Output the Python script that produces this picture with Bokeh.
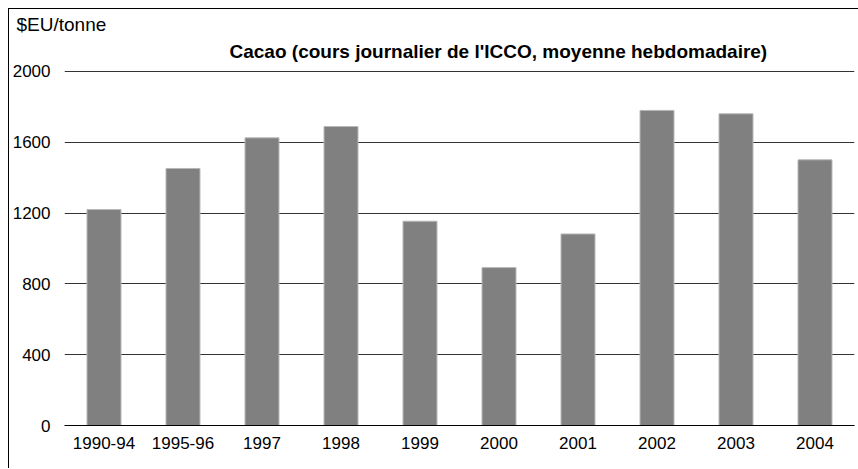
from bokeh.plotting import figure
from bokeh.models import FactorRange, Range1d, FixedTicker, Title, ColumnDataSource
from bokeh.embed import file_html
from bokeh.resources import INLINE

categories = ["1990-94", "1995-96", "1997", "1998", "1999", "2000", "2001", "2002", "2003", "2004"]
prices = [1220, 1452, 1625, 1689, 1154, 892, 1082, 1780, 1761, 1501]
y_ticks = [0, 400, 800, 1200, 1600, 2000]
unit_label = "$EU/tonne"
title_text = "Cacao (cours journalier de l'ICCO, moyenne hebdomadaire)"

source = ColumnDataSource(data=dict(cat=categories, val=prices))

p = figure(
    width=850, height=460,
    x_range=FactorRange(*categories, range_padding=0),
    y_range=Range1d(0, 2045),
    output_backend="svg", toolbar_location=None,
    min_border_left=54, min_border_right=5, min_border_top=0, min_border_bottom=44,
    styles={"margin-left": "8px", "margin-top": "8px",
            "border-left": "1px solid black", "border-top": "1px solid black"},
)
p.title.visible = False

p.vbar(x="cat", top="val", width=0.43, source=source,
       fill_color="#808080", line_color="#b8b8b8", line_width=1)

p.outline_line_color = None
p.xgrid.grid_line_color = None
p.ygrid.grid_line_color = "#333333"
p.ygrid.grid_line_width = 1
p.yaxis.ticker = FixedTicker(ticks=y_ticks)
p.yaxis.axis_line_color = None
p.yaxis.major_tick_line_color = None
p.yaxis.minor_tick_line_color = None
p.yaxis.major_label_standoff = 8
p.xaxis.axis_line_color = "black"
p.xaxis.major_tick_line_color = None
p.xaxis.minor_tick_line_color = None
p.xaxis.major_label_standoff = 5
for ax in (p.xaxis, p.yaxis):
    ax.major_label_text_font = "Liberation Sans"
    ax.major_label_text_font_size = "17px"
    ax.major_label_text_color = "black"

p.add_layout(Title(text=title_text, align="left", offset=165, standoff=4,
                   text_font="Liberation Sans", text_font_size="19px",
                   text_font_style="bold", text_color="black"), "above")
p.add_layout(Title(text=unit_label, align="left", offset=-48, standoff=4,
                   text_font="Liberation Sans", text_font_size="19px",
                   text_font_style="normal", text_color="black"), "above")

open("out.html", "w").write(file_html(p, INLINE))
